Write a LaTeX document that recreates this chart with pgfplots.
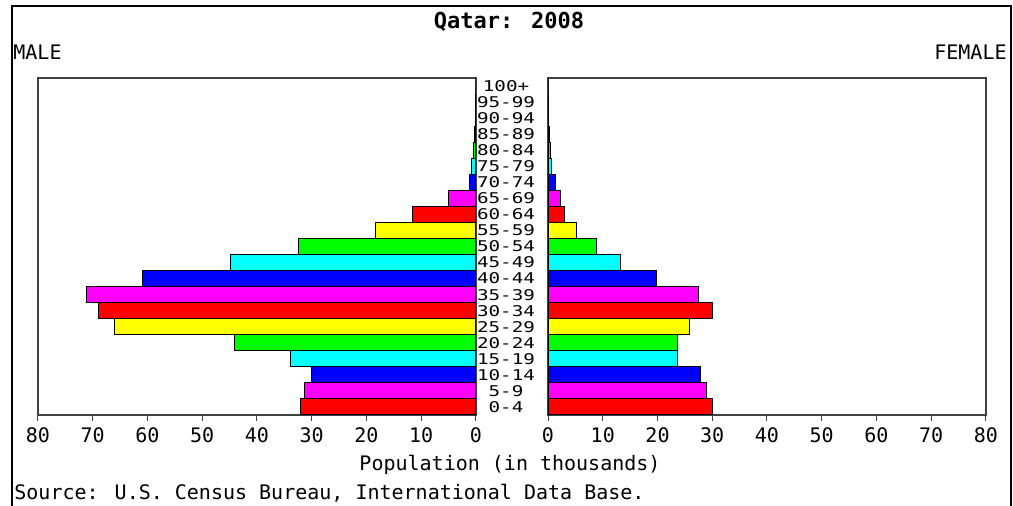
\documentclass[border=0pt]{standalone}
\usepackage{pgfplots}
\pgfplotsset{compat=1.18}
\usepackage{fontspec}
\setmainfont{DejaVu Sans Mono}
\newfontfamily\agefont[FakeStretch=1.3]{DejaVu Sans Mono}
\definecolor{cRed}{RGB}{255,0,0}
\definecolor{cMag}{RGB}{255,0,255}
\definecolor{cBlue}{RGB}{0,0,255}
\definecolor{cCyan}{RGB}{0,255,255}
\definecolor{cGreen}{RGB}{0,255,0}
\definecolor{cYel}{RGB}{255,255,0}
\begin{document}
\begin{tikzpicture}
\path[use as bounding box] (0,0) rectangle (506.5pt,253pt);
\draw[black, line width=0.9pt] (6pt,0) -- (6pt,250pt) -- (505.5pt,250pt) -- (505.5pt,0);
\node[font=\bfseries\fontsize{11}{12}\selectfont] at (254.5pt,242pt) {Qatar: 2008};
\node[anchor=west, inner sep=0pt, font=\fontsize{10}{11}\selectfont] at (6.5pt,227pt) {MALE};
\node[anchor=east, inner sep=0pt, font=\fontsize{10}{11}\selectfont] at (503.5pt,227pt) {FEMALE};
\node[font=\fontsize{10}{11}\selectfont] at (255pt,20.5pt) {Population (in thousands)};
\node[anchor=west, inner sep=0pt, font=\fontsize{10}{11}\selectfont] at (7pt,6.5pt) {Source: U.S. Census Bureau, International Data Base.};
\pgfplotsset{
  pyr/.style={
    scale only axis, width=219pt, height=168.5pt,
    xmin=0, xmax=80, ymin=-0.5, ymax=20.5,
    xbar, bar width=1, bar shift=0pt,
    xtick={0,10,...,80}, tick pos=lower, tick align=outside,
    major tick length=3pt,
    axis line style={black!75, line width=0.6pt},
    every tick/.style={black!75, line width=0.5pt},
    /pgf/number format/assume math mode=true,
    ticklabel style={font=\fontsize{10}{11}\selectfont},
    every axis plot/.append style={draw=black, line width=0.5pt},
  }
}
\begin{axis}[pyr, at={(19pt,45.5pt)}, anchor=south west, x dir=reverse, ytick=\empty]
\addplot[fill=cRed] coordinates {(32.1,0) (69.0,6) (11.6,12) (0.1,18)};
\addplot[fill=cMag] coordinates {(31.4,1) (71.2,7) (5.1,13) (0.1,19)};
\addplot[fill=cBlue] coordinates {(30.0,2) (60.9,8) (1.2,14) (0.0,20)};
\addplot[fill=cCyan] coordinates {(33.8,3) (44.9,9) (0.8,15)};
\addplot[fill=cGreen] coordinates {(44.1,4) (32.5,10) (0.4,16)};
\addplot[fill=cYel] coordinates {(66.1,5) (18.3,11) (0.2,17)};
\end{axis}
\begin{axis}[pyr, at={(274pt,45.5pt)}, anchor=south west,
  ytick={0,...,20},
  yticklabels={0-4,5-9,10-14,15-19,20-24,25-29,30-34,35-39,40-44,45-49,50-54,55-59,60-64,65-69,70-74,75-79,80-84,85-89,90-94,95-99,100+},
  ytick style={draw=none}, major tick length=3pt,
  yticklabel style={anchor=center, xshift=-18pt, inner sep=0pt},
  y tick label style={font=\agefont\fontsize{7.4}{7.4}\selectfont}]
\addplot[fill=cRed] coordinates {(30.1,0) (30.1,6) (3.0,12) (0.1,18)};
\addplot[fill=cMag] coordinates {(29.0,1) (27.5,7) (2.3,13) (0.1,19)};
\addplot[fill=cBlue] coordinates {(27.9,2) (19.8,8) (1.3,14) (0.0,20)};
\addplot[fill=cCyan] coordinates {(23.7,3) (13.2,9) (0.7,15)};
\addplot[fill=cGreen] coordinates {(23.7,4) (8.8,10) (0.4,16)};
\addplot[fill=cYel] coordinates {(25.9,5) (5.2,11) (0.2,17)};
\end{axis}
\end{tikzpicture}
\end{document}
